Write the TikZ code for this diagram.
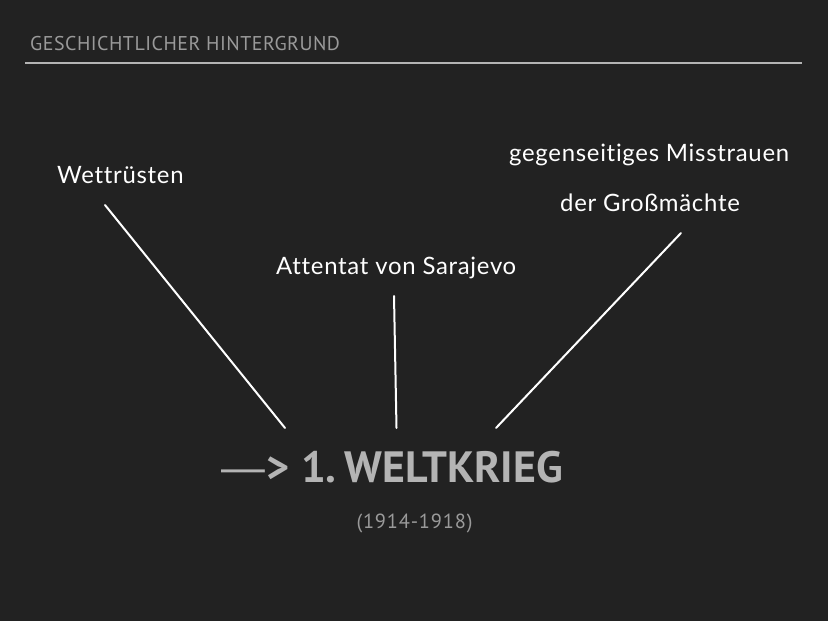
\documentclass[tikz,border=0pt]{standalone}
\usepackage{fontspec}
\setmainfont[Ligatures=NoCommon,LetterSpace=3]{Lato}
\newfontfamily\headfont{PT Sans}
\newfontfamily\titlefont[LetterSpace=2.5]{PT Sans}
\newfontfamily\yearfont[LetterSpace=4]{PT Sans}
\newfontfamily\dashfont{Liberation Sans}
\definecolor{bg}{HTML}{222222}
\definecolor{headgray}{HTML}{B4B4B4}
\definecolor{subgray}{HTML}{9A9A9A}

\begin{document}
\begin{tikzpicture}[x=1bp,y=-1bp,
		cause/.style={anchor=base west,inner sep=0,text=white,font=\fontsize{24}{28}\selectfont},
		link/.style={white,line width=2bp,line cap=round}]
		\fill[bg] (0,0) rectangle (828,621);
		\useasboundingbox (0,0) rectangle (828,621);
		
		\node[anchor=base west,inner sep=0,text=subgray,font=\titlefont\fontsize{20}{22}\selectfont] (title) at(30,51) {GESCHICHTLICHER HINTERGRUND};
		\coordinate (r1) at(25,63);
		\coordinate (r2) at(802,63);
		\draw[headgray,line width=1.5bp] (r1) -- (r2);
		
		\node[cause] (wett) at(57,184) {Wettrüsten};
		\node[cause] (miss) at(509,162) {gegenseitiges Misstrauen};
		\node[cause] (gross) at(560,212) {der Großmächte};
		\node[cause] (sara) at(276,274) {Attentat von Sarajevo};
		
		\node[anchor=base west,inner sep=0,text=headgray,font=\headfont\bfseries\fontsize{44}{50}\selectfont] (krieg) at(221,482) {{\dashfont\mdseries —}\kern1bp>\kern12bp1.\kern8bp WELTKRIEG};
		\node[anchor=base,inner sep=0,text=subgray,font=\yearfont\fontsize{20.5}{22}\selectfont] (jahre) at(414.5,528) {(1914-1918)};
		
		\coordinate (w1) at(105,205);
		\coordinate (w2) at(285,428);
		\coordinate (s1) at(394,296);
		\coordinate (s2) at(396.5,428);
		\coordinate (g1) at(681,233);
		\coordinate (g2) at(496,428);
		\draw[link] (w1) -- (w2);
		\draw[link] (s1) -- (s2);
		\draw[link] (g1) -- (g2);
		\end{tikzpicture}
\end{document}
